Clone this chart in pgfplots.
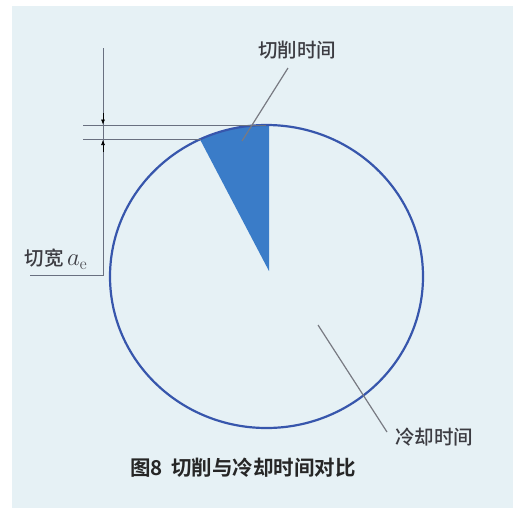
\documentclass[border=0pt]{standalone}
\usepackage{pgfplots}
\pgfplotsset{compat=1.18}
\usepackage{fontspec}
\usetikzlibrary{arrows.meta}
\newfontfamily\cjk{Noto Sans CJK SC Medium}
\newfontfamily\cjkbold{Noto Sans CJK SC Bold}
\definecolor{bgc}{RGB}{230,241,245}
\definecolor{circblue}{RGB}{55,86,172}
\definecolor{secblue}{RGB}{58,124,200}
\definecolor{leader}{RGB}{120,122,130}
\definecolor{dimc}{RGB}{105,112,128}
\definecolor{txt}{RGB}{60,60,66}
\begin{document}
\begin{tikzpicture}
\begin{axis}[
  scale only axis, width=519pt, height=512pt,
  xmin=0, xmax=519, ymin=0, ymax=512, y dir=reverse,
  hide axis, clip=false,
]
% page and background
\fill[white] (axis cs:0,0) rectangle (axis cs:519,512);
\fill[bgc] (axis cs:12,6) rectangle (axis cs:513,508);
% cutting-time sector
\addplot[fill=secblue, draw=none] coordinates {
  (269,271) (269,125) (250,125.9) (233,128.5) (216,133.1) (200,139.4) (269,271)};
% circle (cooling time)
\draw[circblue, line width=2.2pt] (axis cs:266.5,276.5) ellipse [x radius=156.5, y radius=151.5];
% dimension lines
\addplot[dimc, line width=1pt] coordinates {(83,125) (266,125)};
\addplot[dimc, line width=1pt] coordinates {(83,139.5) (201,139.5)};
\addplot[dimc, line width=1pt] coordinates {(103,48) (103,275) (30,275)};
\addplot[black, line width=0.6pt, -{Latex[length=5pt,width=4pt]}] coordinates {(103,113) (103,124.5)};
\addplot[black, line width=0.6pt, -{Latex[length=5pt,width=4pt]}] coordinates {(103,152) (103,140)};
% leader lines
\addplot[leader, line width=1.2pt] coordinates {(288,68) (242,141)};
\addplot[leader, line width=1.2pt] coordinates {(318,325) (387,432)};
% labels
\node[txt, font=\cjk\fontsize{19.5}{22}\selectfont] at (axis cs:297,50) {切削时间};
\node[txt, font=\cjk\fontsize{19.5}{22}\selectfont] at (axis cs:434,437) {冷却时间};
\node[txt, font=\cjk\fontsize{19.5}{22}\selectfont] at (axis cs:56,259) {切宽\,{\fontsize{24}{26}\selectfont$a_{\mathrm{e}}$}};
\node[black!85, font=\cjkbold\fontsize{20.5}{24}\selectfont] at (axis cs:243,468) {图8\hspace{0.4em}切削与冷却时间对比};
\end{axis}
\end{tikzpicture}
\end{document}
